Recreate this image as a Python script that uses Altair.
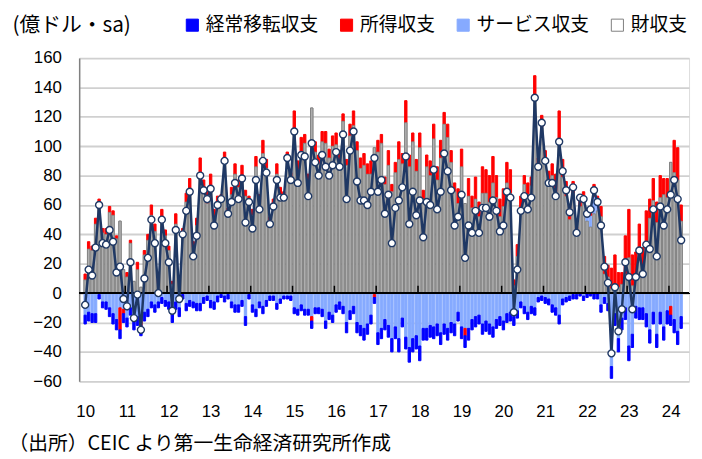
import altair as alt
import pandas as pd

YEARS = list(range(10, 25))
LEGEND_TITLE = "(億ドル・sa)"
SOURCE = "（出所）CEIC より第一生命経済研究所作成"

# current account (line), Jan-2010 .. Apr-2024
CA = [-8, 16, 12, 31, 60, 34, 33, 43, 35, 14, 18, -4,
      -9, 21, -17, -1, -25, 10, 24, 50, 34, 0, 50, 34,
      21, -12, 43, -4, 40, 56, 69, 25, 39, 80, 70, 64,
      71, 46, 60, 64, 90, 54, 62, 75, 64, 78, 48, 62,
      44, 77, 57, 90, 82, 47, 59, 77, 65, 65, 92, 77,
      110, 75, 94, 93, 66, 102, 89, 80, 94, 86, 80, 87,
      96, 86, 108, 64, 97, 110, 76, 63, 63, 60, 69, 92,
      69, 77, 54, 67, 34, 58, 63, 72, 93, 47, 69, 53,
      63, 38, 62, 60, 84, 57, 69, 95, 83, 70, 46, 52,
      67, 24, 46, 41, 56, 41, 58, 58, 52, 63, 56, 42,
      46, 69, 65, -13, 16, 56, 66, 57, 65, 133, 86, 116,
      90, 75, 75, 66, 103, 83, 70, 55, 72, 41, 65, 64,
      54, 57, 70, 62, 46, 18, 7, -41, 4, -26, -11, 21,
      11, -11, 11, 29, 13, 33, 30, 57, 25, 59, 46, 57,
      67, 77, 64, 36]

GOODS = [9, 30, 29, 47, 62, 41, 40, 55, 53, 37, 49, 16,
         11, 34, 8, 16, 4, 26, 36, 53, 42, 7, 51, 39,
         29, 6, 47, 9, 41, 62, 70, 31, 46, 82, 71, 61,
         73, 52, 62, 62, 91, 54, 67, 81, 72, 80, 66, 61,
         53, 86, 62, 95, 85, 48, 59, 81, 67, 65, 90, 78,
         109, 84, 96, 102, 76, 126, 96, 88, 103, 102, 92, 100,
         101, 91, 117, 87, 107, 114, 97, 85, 87, 81, 81, 99,
         96, 102, 74, 87, 69, 82, 91, 88, 116, 86, 103, 83,
         99, 64, 86, 80, 105, 77, 92, 115, 106, 89, 69, 61,
         86, 61, 66, 58, 64, 52, 68, 68, 62, 75, 65, 52,
         59, 75, 68, 5, 25, 58, 74, 67, 73, 133, 86, 113,
         92, 73, 80, 69, 103, 79, 66, 50, 68, 39, 59, 62,
         49, 45, 54, 56, 52, 13, 11, 3, 4, 4, 6, 13,
         24, 5, 13, 22, 18, 35, 51, 63, 48, 65, 67, 65,
         89, 82, 77, 49]

SERVICES = [-15, -13, -14, -14, -1, -6, -6, -10, -14, -18, -10, -11,
            -17, -10, -15, -16, -17, -13, -11, -6, -8, -6, -3, -5,
            -6, -14, -6, -10, -1, -7, -5, -6, -7, -7, -3, -2,
            -5, -6, -2, -1, -2, -1, -6, -8, -8, -5, -16, -1,
            -8, -11, -6, -9, -5, -2, -2, -7, -4, -2, -2, -2,
            -10, -11, -8, -11, -11, -16, -10, -10, -11, -19, -13, -15,
            -8, -6, -9, -20, -12, -9, -20, -22, -24, -21, -15, -1,
            -27, -24, -18, -22, -31, -23, -31, -17, -30, -37, -31, -29,
            -36, -24, -24, -22, -23, -21, -27, -21, -24, -20, -21, -13,
            -23, -24, -24, -18, -16, -15, -21, -19, -21, -23, -18, -16,
            -19, -14, -13, -16, -12, -6, -9, -13, -9, -10, -3, -2,
            -3, -4, -8, -10, -15, -4, -3, -2, -1, -1, 0, -2,
            3, 8, 12, 4, -8, -3, -7, -50, -14, -31, -17, -10,
            -36, -28, -9, -10, -10, -14, -25, -13, -28, -13, -23, -12,
            -9, -18, -26, -16]

INCOME = [4, 5, 3, 4, 2, 3, 4, 4, 3, 2, -15, -3,
          3, 2, -4, 5, -5, 3, 4, 7, 5, 3, 6, 4,
          3, 2, 7, 3, 3, 6, 8, 4, 5, 10, 6, 8,
          8, 5, 4, 5, 5, 4, 5, 7, 5, 7, 4, 5,
          4, 7, 5, 9, 6, 4, 5, 7, 5, 4, 6, 4,
          15, 6, 10, 6, 5, -3, 7, 6, 7, 8, 6, 7,
          8, 6, 5, 4, 8, 10, 6, 7, 8, 7, 9, -2,
          8, 6, 5, 10, 5, 7, 12, 7, 15, 8, 6, 8,
          10, 6, 8, 10, 10, 9, 12, 8, 9, 8, 6, 10,
          12, -5, 12, 8, 15, 10, 18, 16, 18, 18, 15, 12,
          12, 14, 16, 4, 8, 8, 6, 8, 6, 15, 6, 8,
          5, 10, 8, 12, 21, 12, 10, 10, 8, 6, 8, 7,
          5, 6, 8, 6, 7, 12, 8, 14, 22, 10, 8, 26,
          33, 21, 15, 25, 13, 21, 13, 15, 14, 15, 11, 13,
          -6, 22, 22, 11]

TRANSFERS = [-6, -6, -6, -6, -3, -4, -5, -6, -7, -7, -6, -6,
             -6, -5, -6, -6, -7, -6, -5, -4, -5, -4, -4, -4,
             -5, -6, -5, -6, -3, -5, -4, -4, -5, -5, -4, -3,
             -5, -5, -4, -2, -4, -3, -4, -5, -5, -4, -6, -3,
             -5, -5, -4, -5, -4, -3, -3, -4, -3, -2, -2, -3,
             -4, -4, -4, -4, -4, -5, -4, -4, -5, -5, -5, -5,
             -5, -5, -5, -7, -6, -5, -7, -7, -8, -7, -6, -4,
             -8, -7, -7, -8, -9, -8, -9, -6, -8, -10, -9, -9,
             -10, -8, -8, -8, -8, -8, -8, -7, -8, -7, -8, -6,
             -8, -8, -8, -7, -7, -6, -7, -7, -7, -7, -6, -6,
             -6, -6, -6, -6, -5, -4, -5, -5, -5, -5, -3, -3,
             -4, -4, -5, -5, -6, -4, -3, -3, -3, -3, -2, -3,
             -3, -2, -4, -4, -5, -4, -5, -8, -8, -9, -8, -8,
             -10, -9, -8, -8, -8, -9, -9, -8, -9, -8, -9, -9,
             -7, -9, -9, -8]

COMPONENTS = ["経常移転収支", "所得収支", "サービス収支", "財収支"]
FILLS = ["#0000ff", "#ff0000", "#86aaff", "#ffffff"]
STROKES = ["#0000ff", "#ff0000", "#86aaff", "#7f7f7f"]
STACK_ORDER = {"財収支": 0, "サービス収支": 1, "所得収支": 2, "経常移転収支": 3}

months = list(range(len(CA)))
rows = []
for name, series in [("財収支", GOODS), ("サービス収支", SERVICES),
                     ("所得収支", INCOME), ("経常移転収支", TRANSFERS)]:
    for m, v in zip(months, series):
        rows.append({"m": m, "comp": name, "v": v, "ord": STACK_ORDER[name]})
bars_df = pd.DataFrame(rows)
goods_df = pd.DataFrame({"m": months, "g": GOODS})
line_df = pd.DataFrame({"m": months, "ca": CA})
bound_df = pd.DataFrame({"b": [12 * k - 0.5 for k in range(1, len(YEARS))]})

JP = "Noto Sans CJK JP"
NUM = "Liberation Sans"

xscale = alt.Scale(domain=[-0.3, 171.85], nice=False, zero=False)
xaxis = alt.Axis(values=[12 * k for k in range(len(YEARS))],
                 labelExpr=f"'' + ({YEARS[0]} + datum.value / 12)",
                 grid=False, domain=False, ticks=False, labelPadding=23,
                 labelFontSize=17, labelFont=NUM, labelColor="black",
                 labelOverlap=False,
                 title=SOURCE, titleFont=JP, titleFontSize=20, titleFontWeight="normal",
                 titleColor="black", titleX=-72, titleY=63, titleAlign="left",
                 titleBaseline="middle")
X = alt.X("m:Q", scale=xscale, axis=xaxis)

yscale = alt.Scale(domain=[-60, 160], nice=False, zero=False)
yaxis = alt.Axis(values=list(range(-60, 161, 20)), tickCount=12, grid=True,
                 gridColor="#d0d0d0", gridWidth=1.8, domain=True,
                 domainColor="#808080", domainWidth=1.5,
                 ticks=False, labelPadding=18, labelFontSize=17, labelFont=NUM,
                 labelColor="black", labelOverlap=False,
                 title=LEGEND_TITLE, titleFont=JP, titleFontSize=21,
                 titleFontWeight="normal", titleColor="black", titleAngle=0,
                 titleX=-68, titleY=-33, titleAlign="left", titleBaseline="middle")

legend = alt.Legend(orient="none", legendX=105, legendY=-43, direction="horizontal",
                    columns=4, title=None, symbolType="square", symbolSize=150,
                    symbolStrokeWidth=1, labelFont=JP, labelFontSize=19,
                    labelColor="black", labelOffset=4, columnPadding=18)

bars = alt.Chart(bars_df).mark_bar(size=2.4, strokeWidth=1).encode(
    x=X,
    y=alt.Y("v:Q", stack="zero", scale=yscale, axis=yaxis),
    fill=alt.Fill("comp:N", scale=alt.Scale(domain=COMPONENTS, range=FILLS), legend=legend),
    stroke=alt.Stroke("comp:N", scale=alt.Scale(domain=COMPONENTS, range=STROKES), legend=legend),
    order=alt.Order("ord:Q", sort="ascending"),
)

# goods bars drawn again on top (they sit at the bottom of the positive stack)
goods = alt.Chart(goods_df).mark_bar(size=2.4, fill="#b0b0b0", stroke="#7f7f7f",
                                     strokeWidth=0.8).encode(
    x=X, y=alt.Y("g:Q", scale=yscale, axis=yaxis), y2=alt.datum(0))

zero = alt.Chart(line_df).mark_rule(color="black", strokeWidth=1.5).encode(
    y=alt.datum(0, scale=yscale, axis=yaxis))

bounds = alt.Chart(bound_df).mark_rule(color="black", strokeWidth=1.5).encode(
    x=alt.X("b:Q", scale=xscale, axis=xaxis),
    y=alt.datum(0, scale=yscale, axis=yaxis), y2=alt.datum(5))

line = alt.Chart(line_df).mark_line(color="#1f3864", strokeWidth=2.5).encode(
    x=X, y=alt.Y("ca:Q", scale=yscale, axis=yaxis))

points = alt.Chart(line_df).mark_point(filled=True, fill="white", stroke="#1f3864",
                                       strokeWidth=1.4, size=50, opacity=1).encode(
    x=X, y=alt.Y("ca:Q", scale=yscale, axis=yaxis))

chart = alt.layer(bars, goods, zero, bounds, line, points).properties(
    width=617, height=327,
    padding={"left": 72, "top": 48, "right": 5, "bottom": 76},
    autosize=alt.AutoSizeParams(type="none"),
).configure_view(stroke=None).configure(background="white")

chart.save("out.html", embed_options={"renderer": "svg", "actions": False})
